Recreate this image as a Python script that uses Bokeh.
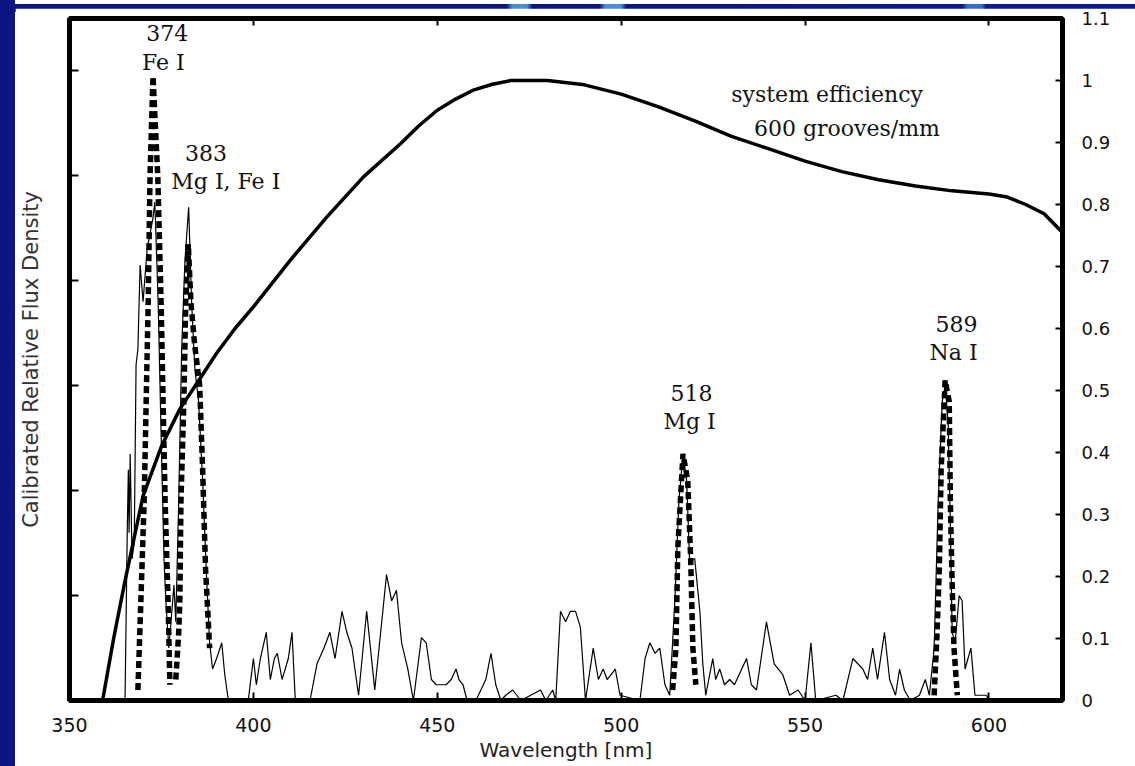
from bokeh.plotting import figure
from bokeh.models import LinearAxis, Range1d, Label, FixedTicker, Div
from bokeh.layouts import column, row
from bokeh.embed import file_html
from bokeh.resources import INLINE

# ---------------- data ----------------
# measured (thin) spectrum, left axis units
spec_nm = [365.1, 365.7, 366.0, 366.2, 366.5, 367.0, 367.6, 368.1, 368.6, 369.2, 370.0, 371.1,
           372.7, 373.2, 374.1, 374.9, 375.7, 376.2, 377.0, 377.6, 378.4, 378.9, 379.7, 380.5,
           381.4, 382.4, 383.2, 384.1, 385.1, 386.2, 387.3, 388.1, 388.9, 390.0, 391.4, 392.2,
           393.2, 398.6, 400.0, 400.8, 401.9, 403.5, 404.6, 405.7, 406.5, 407.8, 409.5, 410.5,
           411.4, 415.4, 417.3, 419.2, 420.8, 422.2, 424.1, 425.4, 426.8, 428.6, 430.8, 433.0,
           434.9, 436.2, 437.6, 438.9, 440.3, 442.0, 443.5, 445.7, 447.0, 448.4, 449.7, 451.1,
           452.4, 453.8, 455.1, 455.9, 457.0, 458.1, 460.5, 463.2, 464.6, 465.9, 467.3, 468.6,
           470.5, 472.7, 478.1, 479.5, 481.4, 482.2, 483.5, 484.9, 486.2, 487.6, 488.9, 490.3,
           492.4, 493.8, 495.1, 496.2, 498.4, 499.7, 505.1, 506.5, 507.8, 509.2, 510.5, 511.9,
           513.2, 514.6, 515.7, 516.8, 517.8, 518.6, 520.0, 521.4, 522.2, 523.0, 524.9, 525.7,
           526.8, 528.1, 529.5, 530.8, 534.1, 535.4, 536.8, 539.5, 541.6, 543.9, 545.8, 548.1,
           550.0, 551.6, 552.9, 558.4, 560.3, 563.0, 565.7, 567.0, 568.4, 569.7, 571.6, 573.0,
           574.6, 575.7, 577.0, 578.6, 581.1, 582.7, 583.8, 585.1, 586.2, 587.3, 588.1, 588.9,
           589.5, 590.0, 590.8, 591.9, 592.7, 593.5, 595.1, 596.2, 599.2, 600.3]
spec_val = [0.0, 0.32, 0.44, 0.32, 0.47, 0.27, 0.30, 0.64, 0.67, 0.83, 0.76, 0.86,
            0.92, 0.95, 0.76, 0.51, 0.27, 0.19, 0.10, 0.15, 0.22, 0.15, 0.38, 0.67,
            0.84, 0.94, 0.76, 0.63, 0.57, 0.42, 0.23, 0.11, 0.06, 0.08, 0.11, 0.05,
            0.0, 0.0, 0.08, 0.03, 0.08, 0.13, 0.04, 0.08, 0.09, 0.04, 0.08, 0.13,
            0.0, 0.0, 0.07, 0.10, 0.13, 0.08, 0.17, 0.13, 0.10, 0.01, 0.17, 0.02,
            0.15, 0.24, 0.19, 0.21, 0.11, 0.06, 0.0, 0.12, 0.11, 0.04, 0.03, 0.03,
            0.03, 0.04, 0.06, 0.04, 0.03, 0.0, 0.0, 0.04, 0.09, 0.03, 0.0, 0.01,
            0.02, 0.0, 0.02, 0.0, 0.02, 0.0, 0.17, 0.15, 0.17, 0.17, 0.14, 0.0,
            0.10, 0.04, 0.06, 0.04, 0.06, 0.01, 0.0, 0.08, 0.11, 0.09, 0.10, 0.03,
            0.01, 0.19, 0.38, 0.47, 0.42, 0.27, 0.27, 0.17, 0.07, 0.01, 0.08, 0.04,
            0.06, 0.03, 0.04, 0.03, 0.08, 0.03, 0.02, 0.15, 0.07, 0.05, 0.01, 0.02,
            0.0, 0.11, 0.0, 0.01, 0.0, 0.08, 0.06, 0.04, 0.10, 0.04, 0.13, 0.04,
            0.01, 0.06, 0.02, 0.0, 0.01, 0.04, 0.01, 0.10, 0.38, 0.57, 0.60, 0.53,
            0.34, 0.13, 0.11, 0.20, 0.19, 0.06, 0.10, 0.01, 0.01, 0.0]

# reference line profiles (dashed), left axis units
fe374_nm = [368.6, 370.3, 371.4, 371.9, 372.7, 374.0, 374.9, 376.0, 376.8, 377.3]
fe374_val = [0.02, 0.38, 0.76, 1.00, 1.19, 1.00, 0.76, 0.38, 0.19, 0.03]
mg383_nm = [378.9, 379.7, 380.0, 380.3, 381.1, 381.6, 382.3, 383.0, 384.0, 385.4, 386.2, 387.0, 388.1]
mg383_val = [0.04, 0.13, 0.19, 0.38, 0.57, 0.76, 0.87, 0.76, 0.68, 0.60, 0.44, 0.25, 0.10]
mg518_nm = [514.0, 514.9, 515.4, 516.8, 518.1, 518.9, 519.5, 520.3]
mg518_val = [0.02, 0.10, 0.29, 0.47, 0.42, 0.27, 0.10, 0.03]
na589_nm = [585.1, 585.9, 586.5, 587.0, 588.1, 589.2, 589.5, 590.0, 590.5, 591.4]
na589_val = [0.01, 0.13, 0.25, 0.44, 0.61, 0.57, 0.38, 0.22, 0.10, 0.01]

# system efficiency (right axis)
eff_nm = [359, 362, 365, 370, 375, 380, 385, 390, 395, 400, 410, 420, 430, 440, 445, 450, 455,
          460, 465, 470, 480, 490, 500, 510, 520, 530, 540, 550, 560, 570, 580, 590, 600, 605,
          610, 615, 620]
eff_val = [0.0, 0.10, 0.19, 0.33, 0.41, 0.47, 0.515, 0.56, 0.60, 0.635, 0.71, 0.78, 0.845,
           0.898, 0.927, 0.952, 0.970, 0.985, 0.994, 1.0, 1.0, 0.993, 0.978, 0.958, 0.935, 0.91,
           0.89, 0.87, 0.853, 0.84, 0.83, 0.822, 0.817, 0.812, 0.80, 0.785, 0.755]

x_ticks = [350, 400, 450, 500, 550, 600]
left_ticks = [0.2, 0.4, 0.6, 0.8, 1.0, 1.2]
right_ticks = [0, 0.1, 0.2, 0.3, 0.4, 0.5, 0.6, 0.7, 0.8, 0.9, 1, 1.1]
right_tick_labels = ["0", "0.1", "0.2", "0.3", "0.4", "0.5", "0.6", "0.7", "0.8", "0.9", "1", "1.1"]

annotations = [
    ("374", 376.6, 1.272), ("Fe I", 375.5, 1.217),
    ("383", 387.1, 1.044), ("Mg I, Fe I", 392.5, 0.989),
    ("518", 519.1, 0.587), ("Mg I", 518.6, 0.531),
    ("589", 591.2, 0.718), ("Na I", 590.4, 0.663),
    ("system efficiency", 556.0, 1.156), ("600 grooves/mm", 561.4, 1.091),
]

# ---------------- figure ----------------
SANS = "DejaVu Sans"
SERIF = "DejaVu Serif"
SLIDE_BLUE = "#0b1584"

p = figure(width=1120, height=758, x_range=(350, 620), y_range=(0, 1.3),
           output_backend="svg", toolbar_location=None,
           min_border_left=50, min_border_right=73, min_border_top=10, min_border_bottom=66)
p.extra_y_ranges = {"eff": Range1d(0, 1.1)}
p.grid.visible = False
p.background_fill_color = "white"
p.border_fill_color = "white"
p.outline_line_color = "black"
p.outline_line_width = 5

# bottom axis
xa = p.xaxis[0]
xa.ticker = FixedTicker(ticks=x_ticks)
xa.axis_line_color = None
xa.major_tick_in = 8
xa.major_tick_out = 0
xa.major_tick_line_width = 2
xa.minor_tick_line_color = None
xa.major_label_text_font = SANS
xa.major_label_text_font_size = "19px"
xa.major_label_text_color = "#111111"
xa.major_label_standoff = 17
xa.axis_label = "Wavelength [nm]"
xa.axis_label_text_font = SANS
xa.axis_label_text_font_size = "20px"
xa.axis_label_text_font_style = "normal"
xa.axis_label_text_color = "#222222"
xa.axis_label_standoff = 3

# left axis (ticks only)
ya = p.yaxis[0]
ya.ticker = FixedTicker(ticks=left_ticks)
ya.major_label_overrides = {t: "" for t in left_ticks}
ya.axis_line_color = None
ya.major_tick_in = 9
ya.major_tick_out = 0
ya.major_tick_line_width = 2
ya.minor_tick_line_color = None
ya.major_label_standoff = 0
ya.axis_label = "Calibrated Relative Flux Density"
ya.axis_label_text_font = SANS
ya.axis_label_text_font_size = "21px"
ya.axis_label_text_font_style = "normal"
ya.axis_label_text_color = "#333333"
ya.axis_label_standoff = 27

# right axis
ra = LinearAxis(y_range_name="eff", ticker=FixedTicker(ticks=right_ticks))
ra.major_label_overrides = {t: l for t, l in zip(right_ticks, right_tick_labels)}
ra.axis_line_color = None
ra.major_tick_in = 7
ra.major_tick_out = 0
ra.major_tick_line_width = 2
ra.minor_tick_line_color = None
ra.major_label_text_font = SANS
ra.major_label_text_font_size = "18px"
ra.major_label_text_color = "#111111"
ra.major_label_standoff = 19
p.add_layout(ra, "right")

# top axis (ticks only)
ta = LinearAxis(ticker=FixedTicker(ticks=x_ticks))
ta.major_label_overrides = {t: "" for t in x_ticks}
ta.axis_line_color = None
ta.major_tick_in = 7
ta.major_tick_out = 0
ta.major_tick_line_width = 2
ta.minor_tick_line_color = None
ta.major_label_standoff = 0
p.add_layout(ta, "above")

# ---------------- glyphs ----------------
p.line(spec_nm, spec_val, line_color="black", line_width=1.2)

for xs, ys in [(fe374_nm, fe374_val), (mg383_nm, mg383_val),
               (mg518_nm, mg518_val), (na589_nm, na589_val)]:
    p.line(xs, ys, line_color="black", line_width=5.5, line_dash="7 4")

p.line(eff_nm, eff_val, y_range_name="eff", line_color="black", line_width=3.5)

for txt, x, y in annotations:
    p.add_layout(Label(x=x, y=y, text=txt, text_font=SERIF, text_font_size="22px",
                       text_align="center", text_baseline="middle", text_color="#111111"))

# ---------------- slide background strips (painted by inner html only) ----------------
TOP_GRADIENT = ("linear-gradient(90deg, #0b1584 0%, #0b1584 43.9%, "
                "#4a8fd6 44.4%, #4a8fd6 45.7%, #0b1584 46.2%, "
                "#0b1584 52.2%, #4a8fd6 52.7%, #4a8fd6 54.1%, #0b1584 54.6%, "
                "#0c1a90 84.6%, #2f6fc8 85%, #2f6fc8 86.3%, #0c1a90 86.7%, #0c1a90 100%)")
top_strip = Div(text='<div style="width:1120px;height:8px;background:%s"></div>' % TOP_GRADIENT,
                width=1120, height=8, margin=0)
left_strip = Div(text='<div style="width:15px;height:766px;background:%s"></div>' % SLIDE_BLUE,
                 width=15, height=766, margin=0)

layout = row(left_strip, column(top_strip, p, spacing=0), spacing=0)

open("out.html", "w").write(file_html(layout, INLINE))
